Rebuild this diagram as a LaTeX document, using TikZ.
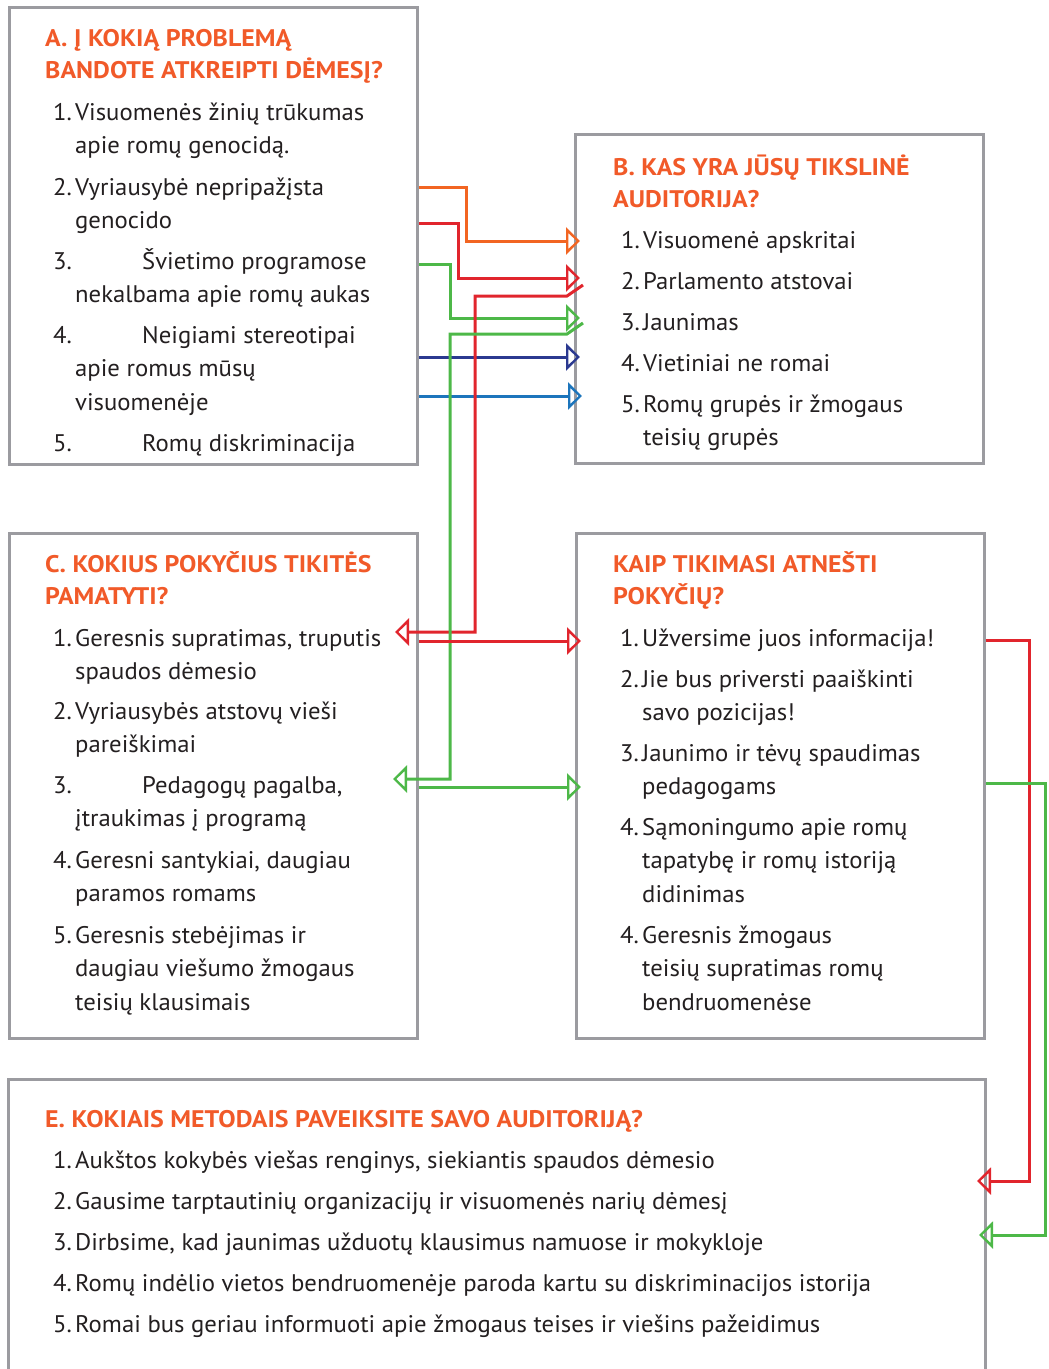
\documentclass[tikz,border=0pt]{standalone}
\usepackage{fontspec}
\setmainfont{PT Sans}[FakeStretch=1.03]
\newfontfamily\headfont{PT Sans}[FakeStretch=1.08]
\usetikzlibrary{arrows.meta}
\definecolor{HeadOrange}{RGB}{241,90,41}
\definecolor{BoxGray}   {RGB}{155,155,160}
\definecolor{TextDark}  {RGB}{35,31,32}
\definecolor{LinkOrange}{RGB}{242,101,34}
\definecolor{LinkRed}   {RGB}{225,37,45}
\definecolor{LinkGreen} {RGB}{77,184,72}
\definecolor{LinkNavy}  {RGB}{43,57,144}
\definecolor{LinkBlue}  {RGB}{28,117,188}
\newcommand{\itm}[3][360pt]{\makebox[22pt][l]{#2}\parbox[t]{#1}{\raggedright #3}}
\newcommand{\hd}[1]{\parbox[t]{900pt}{\raggedright #1}}

\begin{document}
\begin{tikzpicture}[
  x=1pt, y=-1pt,
  font=\fontsize{24}{33.5}\selectfont,
  panel/.style={
    draw=BoxGray, line width=3pt,
    inner sep=0pt, anchor=north west},
  heading/.style={
    anchor=base west, inner sep=0pt,
    font=\fontsize{24}{32.5}\selectfont\headfont\bfseries,
    text=HeadOrange},
  item/.style={
    anchor=base west, inner sep=0pt,
    text=TextDark},
  link/.style={
    line width=3pt,
    -{Triangle[open, length=14pt, width=27pt, line width=2.4pt]}}
]
\useasboundingbox (0,0) rectangle (1049,1369);

% boxes
\node[panel, minimum width=408pt, minimum height=457pt] (boxA) at (8,6) {};
\node[panel, minimum width=408pt, minimum height=329pt] (boxB) at (574,133) {};
\node[panel, minimum width=408pt, minimum height=505pt] (boxC) at (8,532) {};
\node[panel, minimum width=408pt, minimum height=505pt] (boxD) at (575,532) {};
\node[panel, draw=none, minimum width=974pt, minimum height=300pt] (boxE) at (8,1079) {};
\draw[draw=BoxGray, line width=3pt]
  (boxE.south west) |- (boxE.north east) -- (boxE.south east);

% A
\node[heading] (hA) at (45,46)
  {\hd{A. Į KOKIĄ PROBLEMĄ\\BANDOTE ATKREIPTI DĖMESĮ?}};
\node[item] (a1) at (53,120)
  {\itm{1.}{Visuomenės žinių trūkumas\\apie romų genocidą.}};
\node[item] (a2) at (53,195)
  {\itm{2.}{Vyriausybė nepripažįsta\\genocido}};
\node[item] (a3) at (53,269)
  {\itm{3.}{\hspace*{67pt}Švietimo programose\\nekalbama apie romų aukas}};
\node[item] (a4) at (53,343)
  {\itm{4.}{\hspace*{67pt}Neigiami stereotipai\\apie romus mūsų\\visuomenėje}};
\node[item] (a5) at (53,451)
  {\itm{5.}{\hspace*{67pt}Romų diskriminacija}};

% B
\node[heading] (hB) at (613,175)
  {\hd{B. KAS YRA JŪSŲ TIKSLINĖ\\AUDITORIJA?}};
\node[item] (b1) at (621,248) {\itm{1.}{Visuomenė apskritai}};
\node[item] (b2) at (621,289) {\itm{2.}{Parlamento atstovai}};
\node[item] (b3) at (621,330) {\itm{3.}{Jaunimas}};
\node[item] (b4) at (621,371) {\itm{4.}{Vietiniai ne romai}};
\node[item] (b5) at (621,412)
  {\itm{5.}{Romų grupės ir žmogaus\\teisių grupės}};

% C
\node[heading] (hC) at (45,572)
  {\hd{C. KOKIUS POKYČIUS TIKITĖS\\PAMATYTI?}};
\node[item] (c1) at (53,646)
  {\itm{1.}{Geresnis supratimas, truputis\\spaudos dėmesio}};
\node[item] (c2) at (53,719)
  {\itm{2.}{Vyriausybės atstovų vieši\\pareiškimai}};
\node[item] (c3) at (53,793)
  {\itm{3.}{\hspace*{67pt}Pedagogų pagalba,\\įtraukimas į programą}};
\node[item] (c4) at (53,868)
  {\itm{4.}{Geresni santykiai, daugiau\\paramos romams}};
\node[item] (c5) at (53,943)
  {\itm{5.}{Geresnis stebėjimas ir\\daugiau viešumo žmogaus\\teisių klausimais}};

% D
\node[heading] (hD) at (613,572)
  {\hd{KAIP TIKIMASI ATNEŠTI\\POKYČIŲ?}};
\node[item] (d1) at (620,646)
  {\itm{1.}{Užversime juos informacija!}};
\node[item] (d2) at (620,687)
  {\itm{2.}{Jie bus priversti paaiškinti\\savo pozicijas!}};
\node[item] (d3) at (620,761)
  {\itm{3.}{Jaunimo ir tėvų spaudimas\\pedagogams}};
\node[item] (d4) at (620,835)
  {\itm{4.}{Sąmoningumo apie romų\\tapatybę ir romų istoriją\\didinimas}};
\node[item] (d5) at (620,943)
  {\itm{4.}{Geresnis žmogaus\\teisių supratimas romų\\bendruomenėse}};

% E
\node[heading] (hE) at (45,1127)
  {E. KOKIAIS METODAIS PAVEIKSITE SAVO AUDITORIJĄ?};
\node[item] (e1) at (53,1168)
  {\itm[880pt]{1.}{Aukštos kokybės viešas renginys, siekiantis spaudos dėmesio}};
\node[item] (e2) at (53,1209)
  {\itm[880pt]{2.}{Gausime tarptautinių organizacijų ir visuomenės narių dėmesį}};
\node[item] (e3) at (53,1250)
  {\itm[880pt]{3.}{Dirbsime, kad jaunimas užduotų klausimus namuose ir mokykloje}};
\node[item] (e4) at (53,1291)
  {\itm[880pt]{4.}{Romų indėlio vietos bendruomenėje paroda kartu su diskriminacijos istorija}};
\node[item] (e5) at (53,1332)
  {\itm[880pt]{5.}{Romai bus geriau informuoti apie žmogaus teises ir viešins pažeidimus}};

% A -> B
\draw[link, LinkOrange] (boxA.east |- 0,187) -| (466,241)
  -- ([xshift=6pt]boxB.west |- 0,241);
\draw[link, LinkRed] (boxA.east |- 0,223) -| (458,278)
  -- ([xshift=6pt]boxB.west |- 0,278);
\draw[link, LinkGreen] (boxA.east |- 0,264) -| (450,318)
  -- ([xshift=6pt]boxB.west |- 0,318);
\draw[link, LinkNavy] (boxA.east |- 0,357)
  -- ([xshift=6pt]boxB.west |- 0,357);
\draw[link, LinkBlue] (boxA.east |- 0,396)
  -- ([xshift=8pt]boxB.west |- 0,396);

% B -> C
\draw[link, LinkRed] ([xshift=9pt]boxB.west |- 0,285) -- ++(-16,11)
  -| (475,632) -- ([xshift=-24pt]boxC.east |- 0,632);
\draw[link, LinkGreen] ([xshift=9pt]boxB.west |- 0,323) -- ++(-16,11)
  -| (450,779) -- ([xshift=-26pt]boxC.east |- 0,779);

% C -> D
\draw[link, LinkRed] (boxC.east |- 0,641)
  -- ([xshift=6pt]boxD.west |- 0,641);
\draw[link, LinkGreen] (boxC.east |- 0,787)
  -- ([xshift=6pt]boxD.west |- 0,787);

% D -> E
\draw[link, LinkRed] (boxD.east |- 0,640) -| (1029,1181)
  -- ([xshift=-8pt]boxE.east |- 0,1181);
\draw[link, LinkGreen] (boxD.east |- 0,783) -| (1045,1235)
  -- ([xshift=-6pt]boxE.east |- 0,1235);
\end{tikzpicture}
\end{document}
